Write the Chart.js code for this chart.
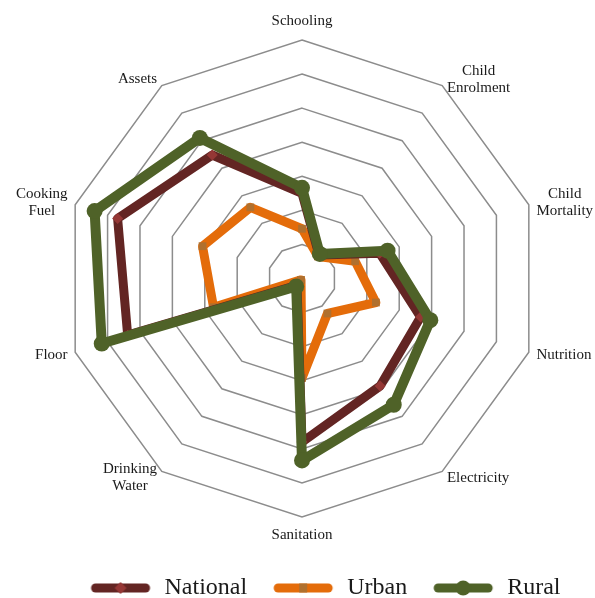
<!DOCTYPE html>
<html>
<head>
<meta charset="utf-8">
<script src="https://cdn.jsdelivr.net/npm/chart.js@4"></script>
<style>
  html, body { margin: 0; padding: 0; background: #fff; }
  #chartContainer { width: 595px; height: 598px; }
</style>
</head>
<body>
<div id="chartContainer"><canvas id="radar" width="595" height="598"></canvas></div>
<script>
// indicator names, clockwise from the top
const indicators = [
  "Schooling",
  ["Child", "Enrolment"],
  ["Child", "Mortality"],
  "Nutrition",
  "Electricity",
  "Sanitation",
  ["Drinking", "Water"],
  "Floor",
  ["Cooking", "Fuel"],
  "Assets",
];

// values (one grid ring = 1 unit)
const national = [2.5, 0.85, 2.4, 3.66, 3.9, 4.8, 0.25, 5.38, 5.69, 4.48];
const urban = [1.46, 0.8, 1.64, 2.28, 1.27, 2.92, 0.05, 2.73, 3.07, 2.58];
const rural = [2.66, 0.89, 2.64, 3.96, 4.58, 5.34, 0.29, 6.18, 6.4, 5.1];

const ringCount = 7;

// layout of the polygon, matching the original picture
const CENTER_X = 302;
const CENTER_Y = 278.5;
const RADIUS = 238.5;
const LABEL_SIZE = 15;
const LABEL_LINE = 17;
const LABEL_GAP = 8;
const LABEL_FONT = "'Liberation Serif', 'Times New Roman', serif";

const colors = {
  national: { line: "#632523", mark: "#953735" },
  urban: { line: "#E46C0A", mark: "#B0702E" },
  rural: { line: "#4F6228", mark: "#4F6228" },
};

function legendIcon(lineColor, markColor, shape) {
  const c = document.createElement("canvas");
  c.width = 64;
  c.height = 20;
  const ctx = c.getContext("2d");
  ctx.strokeStyle = lineColor;
  ctx.lineWidth = 9;
  ctx.lineCap = "round";
  ctx.beginPath();
  ctx.moveTo(7, 10);
  ctx.lineTo(57, 10);
  ctx.stroke();
  ctx.fillStyle = markColor;
  ctx.beginPath();
  if (shape === "diamond") {
    ctx.moveTo(32, 4);
    ctx.lineTo(38, 10);
    ctx.lineTo(32, 16);
    ctx.lineTo(26, 10);
    ctx.closePath();
  } else if (shape === "square") {
    ctx.rect(28, 5.5, 8, 9);
  } else {
    ctx.arc(32, 10, 7.5, 0, Math.PI * 2);
  }
  ctx.fill();
  return c;
}

const legendIcons = [
  legendIcon(colors.national.line, colors.national.mark, "diamond"),
  legendIcon(colors.urban.line, colors.urban.mark, "square"),
  legendIcon(colors.rural.line, colors.rural.mark, "circle"),
];

// put the polygon where the original has it and place the labels around it
function placeScale(scale) {
  scale.xCenter = CENTER_X;
  scale.yCenter = CENTER_Y;
  scale.drawingArea = RADIUS;
  if (!scale._pointLabels) return;
  const ctx = scale.ctx;
  ctx.save();
  ctx.font = LABEL_SIZE + "px " + LABEL_FONT;
  scale._pointLabelItems = scale._pointLabels.map((label, i) => {
    const lines = [].concat(label);
    const w = Math.max(...lines.map((l) => ctx.measureText(l).width));
    const h = lines.length * LABEL_LINE;
    const p = scale.getPointPosition(i, RADIUS + LABEL_GAP);
    const a = scale.getIndexAngle(i) - Math.PI / 2;
    const dx = Math.cos(a);
    const dy = Math.sin(a);
    let cx = p.x;
    let cy = p.y;
    if (Math.abs(dx) > 0.1) {
      cx += Math.sign(dx) * w / 2;
    } else {
      cy += Math.sign(dy) * (h / 2 + 2);
    }
    return {
      visible: true,
      x: cx,
      y: cy - h / 2,
      textAlign: "center",
      left: cx - w / 2,
      right: cx + w / 2,
      top: cy - h / 2,
      bottom: cy + h / 2,
    };
  });
  ctx.restore();
}

function makeDataset(label, data, c, pointStyle, radius, width, order) {
  return {
    label: label,
    data: data,
    fill: false,
    borderColor: c.line,
    backgroundColor: c.line,
    borderWidth: width,
    borderJoinStyle: "round",
    pointStyle: pointStyle,
    pointRadius: radius,
    pointBorderWidth: 0,
    pointBackgroundColor: c.mark,
    pointBorderColor: c.mark,
    order: order,
  };
}

new Chart(document.querySelector("#radar"), {
  type: "radar",
  data: {
    labels: indicators,
    datasets: [
      makeDataset("National", national, colors.national, "rectRot", 5.5, 9, 1),
      makeDataset("Urban", urban, colors.urban, "rect", 5.5, 9, 2),
      makeDataset("Rural", rural, colors.rural, "circle", 8, 10, 0),
    ],
  },
  options: {
    responsive: false,
    animation: false,
    layout: { padding: { left: 54, bottom: -12 } },
    scales: {
      r: {
        min: 0,
        max: ringCount,
        ticks: { display: false, stepSize: 1 },
        angleLines: { display: false },
        grid: { color: "#8C8C8C", lineWidth: 1.5 },
        pointLabels: {
          color: "#1a1a1a",
          font: { family: LABEL_FONT, size: LABEL_SIZE, lineHeight: LABEL_LINE / LABEL_SIZE },
        },
        afterFit: placeScale,
      },
    },
    plugins: {
      tooltip: { enabled: false },
      legend: {
        position: "bottom",
        labels: {
          usePointStyle: true,
          pointStyleWidth: 64,
          padding: 24,
          color: "#1a1a1a",
          font: { family: LABEL_FONT, size: 24 },
          generateLabels: (chart) =>
            chart.data.datasets.map((ds, i) => ({
              text: ds.label,
              datasetIndex: i,
              pointStyle: legendIcons[i],
              fillStyle: "transparent",
              strokeStyle: "transparent",
              lineWidth: 0,
              hidden: false,
              fontColor: "#1a1a1a",
            })),
        },
      },
    },
  },
});
</script>
</body>
</html>
